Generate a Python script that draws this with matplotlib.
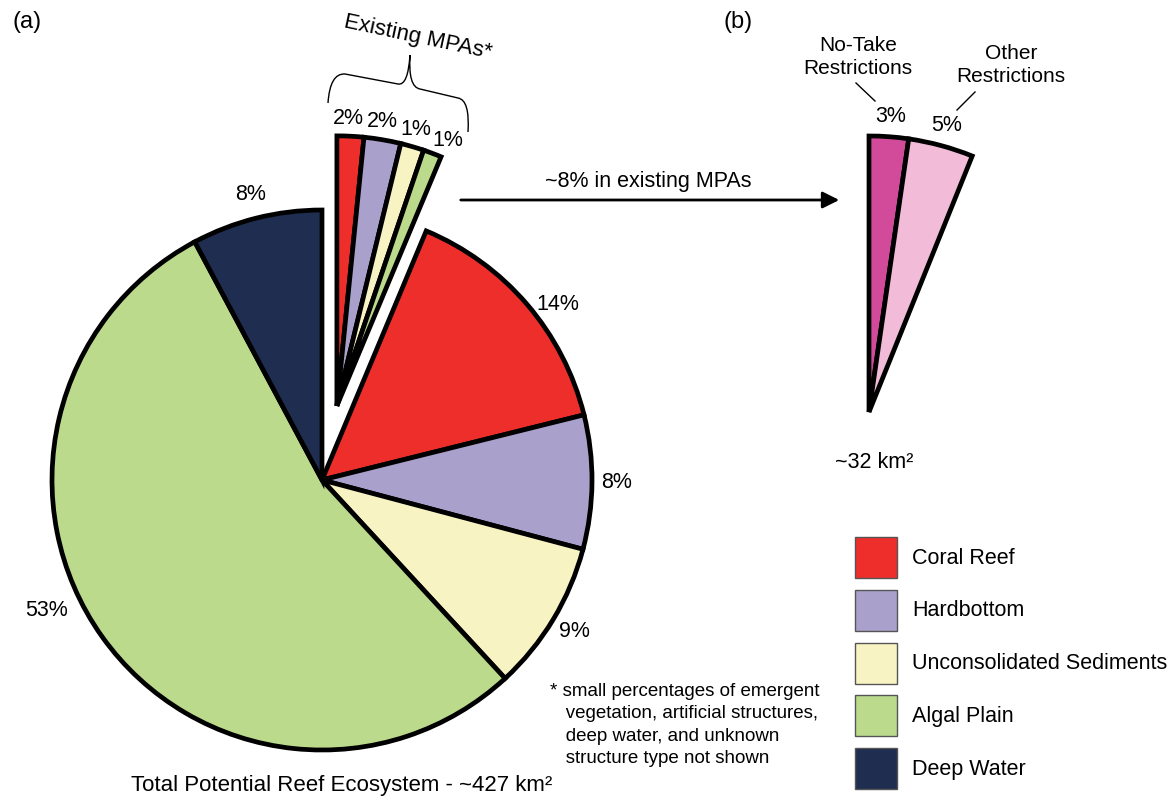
import numpy as np
import matplotlib.pyplot as plt
from matplotlib.path import Path
from matplotlib.patches import PathPatch, Rectangle

plt.rcParams['font.family'] = ['Liberation Sans', 'DejaVu Sans']

# (a) share of the total reef ecosystem (%), clockwise from 12 o'clock
mpa_names = ['Coral Reef', 'Hardbottom', 'Unconsolidated Sediments', 'Algal Plain']
mpa_values = [1.6, 2.2, 1.4, 1.1]
mpa_labels = ['2%', '2%', '1%', '1%']
rest_names = ['Coral Reef', 'Hardbottom', 'Unconsolidated Sediments', 'Algal Plain', 'Deep Water']
rest_values = [14.8, 8.0, 9.0, 54.0, 7.8]
rest_labels = ['14%', '8%', '9%', '53%', '8%']

# (b) type of protection inside the MPAs (% of total)
type_names = ['No-Take\nRestrictions', 'Other\nRestrictions']
type_values = [2.3, 3.8]
type_labels = ['3%', '5%']
type_colors = ['#d24b9b', '#f2bcd8']

legend_names = ['Coral Reef', 'Hardbottom', 'Unconsolidated Sediments', 'Algal Plain', 'Deep Water']
habitat_colors = {'Coral Reef': '#ee2e2b', 'Hardbottom': '#a9a0cc',
                  'Unconsolidated Sediments': '#f8f3c3', 'Algal Plain': '#bcda8b',
                  'Deep Water': '#1f2d50'}

W, H = 1168, 800
fig = plt.figure(figsize=(W / 100, H / 100), dpi=100)
ax = fig.add_axes([0, 0, 1, 1])

# positions are in pixel-like units (y up)
ca = np.array([322.0, 320.0])   # centre of pie (a)
cb = np.array([869.0, 388.0])   # apex of pie (b)
R = 270
edge = dict(edgecolor='black', linewidth=3.4, joinstyle='miter')
fs = 15.5

all_values = mpa_values + rest_values
all_colors = [habitat_colors[n] for n in mpa_names + rest_names]
wedges, _ = ax.pie(all_values, colors=all_colors, startangle=90, counterclock=False,
                   center=tuple(ca), radius=R, wedgeprops=edge)

# move the MPA slices out together
fr = np.array(all_values) / sum(all_values)
cum = np.cumsum(fr)
mid = 2 * np.pi * (cum - fr / 2)       # clockwise from top
n_mpa = len(mpa_values)
span = 2 * np.pi * cum[n_mpa - 1]
off = 0.28 * R * np.array([np.sin(span / 2), np.cos(span / 2)])
for w in wedges[:n_mpa]:
    w.set_center(tuple(ca + off))

# small labels spread evenly over the exploded group
for i, lab in enumerate(mpa_labels):
    a = span * (0.1 + 0.3 * i)
    p = ca + off + 1.065 * R * np.array([np.sin(a), np.cos(a)])
    ax.text(p[0], p[1], lab, ha='center', va='center', fontsize=fs)

nudge = {'14%': (np.radians(4), 1.09), '53%': (np.radians(10), 1.13)}
for j, lab in enumerate(rest_labels):
    a = mid[n_mpa + j]
    da, d = nudge.get(lab, (0, 1.09))
    p = ca + d * R * np.array([np.sin(a + da), np.cos(a + da)])
    ax.text(p[0], p[1], lab, ha='center', va='center', fontsize=fs)

# (b) partial pie
Rb = 276
ax.pie(np.array(type_values) / 100, colors=type_colors, startangle=90, counterclock=False,
       center=tuple(cb), radius=Rb, normalize=False, wedgeprops=edge)
fb = np.array(type_values) / 100
mb = 2 * np.pi * (np.cumsum(fb) - fb / 2)
for i, lab in enumerate(type_labels):
    p = cb + 1.075 * Rb * np.array([np.sin(mb[i]), np.cos(mb[i])])
    ax.text(p[0], p[1], lab, ha='center', va='center', fontsize=fs)

ax.set_xlim(0, W)
ax.set_ylim(0, H)
ax.set_aspect('equal')
ax.axis('off')

def py(y):
    return H - y

# annotation texts
ax.text(27, py(22), '(a)', ha='center', va='center', fontsize=17)
ax.text(738, py(22), '(b)', ha='center', va='center', fontsize=17)
ax.text(858, py(57), type_names[0], ha='center', va='center', fontsize=fs - 0.5, linespacing=1.25)
ax.plot([856, 875], [py(83), py(101)], color='black', lw=1)
ax.text(1011, py(65), type_names[1], ha='center', va='center', fontsize=fs - 0.5, linespacing=1.25)
ax.plot([975, 957], [py(92), py(110)], color='black', lw=1)
ax.text(874, py(462), '~32 km²', ha='center', va='center', fontsize=fs)
ax.text(342, py(786), 'Total Potential Reef Ecosystem - ~427 km²', ha='center', va='center', fontsize=16)
ax.text(550, py(725), '* small percentages of emergent\n   vegetation, artificial structures,\n   deep water, and unknown\n   structure type not shown',
        ha='left', va='center', fontsize=13.5, linespacing=1.4)

# arrow to panel (b)
ax.annotate('', xy=(842, py(200)), xytext=(458, py(200)),
            arrowprops=dict(arrowstyle='-|>', lw=2, color='black', mutation_scale=25))
ax.text(648, py(181), '~8% in existing MPAs', ha='center', va='center', fontsize=fs)

# brace above the MPA slices
pts = [(328, 103), (330, 73), (345, 74), (398, 84), (408, 86), (410, 55),
       (408, 87), (420, 89), (458, 98), (470, 100), (468, 132)]
codes = [Path.MOVETO, Path.CURVE3, Path.CURVE3, Path.LINETO, Path.CURVE3, Path.CURVE3,
         Path.CURVE3, Path.CURVE3, Path.LINETO, Path.CURVE3, Path.CURVE3]
brace = Path([(x, py(y)) for x, y in pts], codes)
ax.add_patch(PathPatch(brace, facecolor='none', edgecolor='black', lw=1))
ax.text(418, py(37), 'Existing MPAs*', ha='center', va='center', fontsize=16, rotation=-12)

# legend, drawn by hand as squares and labels
for i, n in enumerate(legend_names):
    top = 537 + i * 52.8
    ax.add_patch(Rectangle((855, py(top + 41)), 42, 41, facecolor=habitat_colors[n],
                           edgecolor='#555555', lw=1))
    ax.text(912, py(top + 21), n, ha='left', va='center', fontsize=fs)

fig.savefig('out.png', dpi=100)
